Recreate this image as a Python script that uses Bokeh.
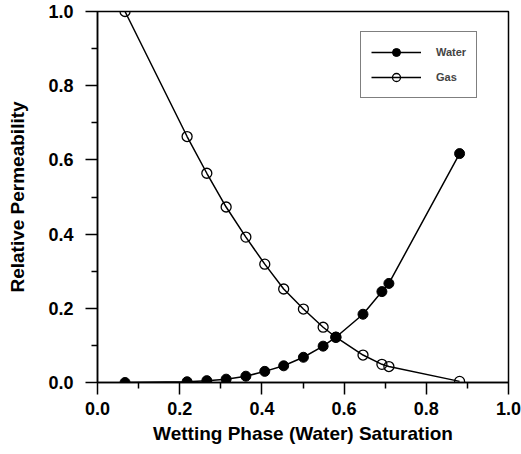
from bokeh.plotting import figure
from bokeh.models import Range1d, FixedTicker, Legend, LegendItem, PrintfTickFormatter
from bokeh.embed import file_html
from bokeh.resources import INLINE

# Data
sw = [0.067, 0.218, 0.266, 0.313, 0.361, 0.407, 0.453, 0.501, 0.549, 0.580, 0.646, 0.692, 0.709, 0.881]
krw = [0.0, 0.002, 0.005, 0.009, 0.017, 0.030, 0.045, 0.068, 0.098, 0.122, 0.184, 0.245, 0.267, 0.617]
krg = [1.0, 0.663, 0.564, 0.473, 0.392, 0.319, 0.252, 0.198, 0.149, 0.122, 0.074, 0.049, 0.043, 0.003]

x_ticks = [0.0, 0.2, 0.4, 0.6, 0.8, 1.0]
x_minor = [0.1, 0.3, 0.5, 0.7, 0.9]
y_ticks = [0.0, 0.2, 0.4, 0.6, 0.8, 1.0]
y_minor = [0.1, 0.3, 0.5, 0.7, 0.9]

FONT = "Liberation Sans"

p = figure(width=521, height=454, output_backend="svg", toolbar_location=None,
           x_range=Range1d(0, 1), y_range=Range1d(0, 1),
           min_border_left=97, min_border_right=13, min_border_top=11, min_border_bottom=72)

p.xgrid.visible = False
p.ygrid.visible = False
p.outline_line_color = "black"
p.outline_line_width = 1.5
p.outline_line_alpha = 1.0
p.background_fill_color = "white"
p.border_fill_color = "white"

for ax, ticks, minor in ((p.xaxis[0], x_ticks, x_minor), (p.yaxis[0], y_ticks, y_minor)):
    ax.ticker = FixedTicker(ticks=ticks, minor_ticks=minor)
    ax.formatter = PrintfTickFormatter(format="%.1f")
    ax.axis_line_color = "black"
    ax.axis_line_width = 1.5
    ax.major_tick_line_color = "black"
    ax.major_tick_line_width = 1.5
    ax.minor_tick_line_color = "black"
    ax.minor_tick_line_width = 1.5
    ax.major_tick_in = 0
    ax.major_tick_out = 12
    ax.minor_tick_in = 0
    ax.minor_tick_out = 6
    ax.major_label_text_font = FONT
    ax.major_label_text_font_style = "bold"
    ax.major_label_text_font_size = "18px"
    ax.major_label_text_color = "black"
    ax.axis_label_text_font = FONT
    ax.axis_label_text_font_style = "bold"
    ax.axis_label_text_font_size = "19px"
    ax.axis_label_text_color = "black"

p.xaxis.axis_label = "Wetting Phase (Water) Saturation"
p.yaxis.axis_label = "Relative Permeability"
p.xaxis.major_label_standoff = 7
p.xaxis.axis_label_standoff = 5
p.yaxis.major_label_standoff = 12
p.yaxis.axis_label_standoff = 17

lg = p.line(sw, krg, line_color="black", line_width=1.5)
sg = p.scatter(sw, krg, marker="circle", size=10, line_color="black", line_width=1.3, fill_color=None)
lw = p.line(sw, krw, line_color="black", line_width=1.5)
sw_r = p.scatter(sw, krw, marker="circle", size=10, line_color="black", fill_color="black")

legend = Legend(items=[LegendItem(label="Water", renderers=[lw, sw_r]),
                       LegendItem(label="Gas", renderers=[lg, sg])],
                location=(263, 284))
legend.border_line_color = "black"
legend.border_line_width = 1
legend.background_fill_color = "white"
legend.background_fill_alpha = 1.0
legend.label_text_font = FONT
legend.label_text_font_style = "bold"
legend.label_text_font_size = "11px"
legend.padding = 10
legend.spacing = 5
legend.margin = 0
legend.glyph_width = 50
legend.glyph_height = 20
legend.label_standoff = 15
legend.label_height = 20
p.add_layout(legend)

open("out.html", "w").write(file_html(p, INLINE))
